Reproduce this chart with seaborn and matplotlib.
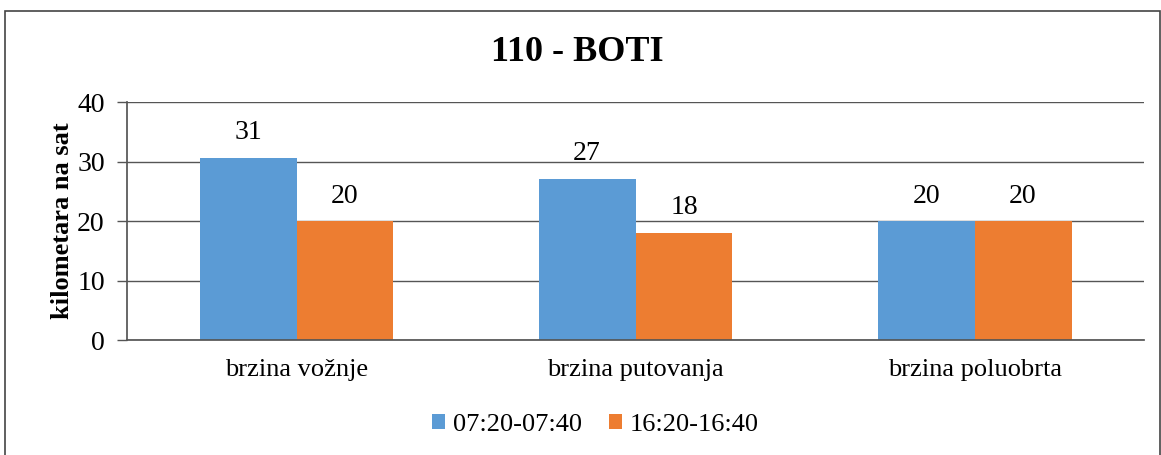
import matplotlib
matplotlib.use("Agg")
import matplotlib.pyplot as plt
import seaborn as sns
import pandas as pd
from matplotlib.patches import Rectangle

categories = ["brzina vožnje", "brzina putovanja", "brzina poluobrta"]
series_names = ["07:20-07:40", "16:20-16:40"]
morning = [30.6, 27.1, 20.0]
afternoon = [20.0, 18.0, 20.0]
title = "110 - BOTI"
ylabel = "kilometara na sat"
yticks = [0, 10, 20, 30, 40]
colors = ["#5B9BD5", "#ED7D31"]

df = pd.DataFrame({
    "cat": categories * 2,
    "period": [series_names[0]] * 3 + [series_names[1]] * 3,
    "value": morning + afternoon,
})

sns.set_theme(style="white")
plt.rcParams["font.family"] = ["Liberation Serif", "DejaVu Serif"]
plt.rcParams["text.color"] = "black"
plt.rcParams["xtick.color"] = "black"
plt.rcParams["ytick.color"] = "black"
plt.rcParams["axes.labelcolor"] = "black"

fig = plt.figure(figsize=(11.61, 4.55), dpi=100)
ax = fig.add_axes([0.1094, 0.2527, 0.876, 0.5231])

sns.barplot(data=df, x="cat", y="value", hue="period", palette=colors,
            width=0.572, saturation=1, ax=ax, legend=True, edgecolor="none")

for cont in ax.containers:
    ax.bar_label(cont, fmt="%.0f", padding=9, fontsize=20, color="black")

ax.set_ylim(0, 40)
ax.set_xlim(-0.5, 2.5)
ax.set_yticks(yticks)
ax.set_yticklabels([str(t) for t in yticks], fontsize=20)
ax.yaxis.grid(True, color="#555555", linewidth=1.0)
ax.set_axisbelow(True)
ax.set_xlabel("")
ax.set_ylabel(ylabel, fontsize=19, fontweight="bold", labelpad=2)
ax.tick_params(axis="x", which="major", length=0, labelsize=19, pad=14, labelcolor="black")
ax.set_xticks([-0.5, 0.5, 1.5, 2.5], minor=True)
ax.tick_params(axis="x", which="minor", length=6, color="#555555", width=1, direction="out")
ax.tick_params(axis="y", length=7, color="#555555", width=1, direction="out", left=True,
               pad=9, labelcolor="black")
for s in ["top", "right"]:
    ax.spines[s].set_visible(False)
ax.spines["left"].set_color("#555555")
ax.spines["bottom"].set_color("#555555")

fig.text(0.497, 0.885, title, fontsize=26, fontweight="bold", color="black",
         ha="center", va="center")

handles, labels = ax.get_legend_handles_labels()
ax.get_legend().remove()
fig.legend(handles, labels, loc="center", bbox_to_anchor=(0.513, 0.066), ncol=2,
           frameon=False, fontsize=19, handlelength=0.5, handleheight=0.5,
           columnspacing=1.0, handletextpad=0.3)

fig.patches.append(Rectangle((0.004, -0.01), 0.995, 0.985, transform=fig.transFigure,
                             fill=False, edgecolor="#444444", linewidth=1.2))

fig.savefig("out.png", dpi=100, facecolor="white")
